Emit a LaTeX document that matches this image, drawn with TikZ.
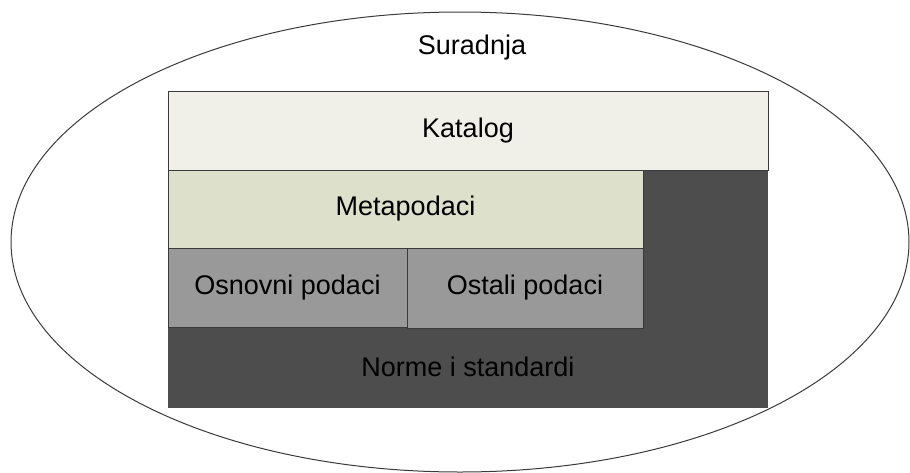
\documentclass[tikz,border=0pt]{standalone}
\usepackage{fontspec}
\setmainfont{Liberation Sans}
\usetikzlibrary{shapes.geometric}
\definecolor{katfill}{HTML}{F0F0E8}
\definecolor{metafill}{HTML}{DDE1CB}
\definecolor{grayfill}{HTML}{999999}
\definecolor{darkfill}{HTML}{4D4D4D}
\definecolor{edge}{HTML}{3A3A3A}
\tikzset{
  layer/.style={rectangle, draw=edge, line width=1pt, inner sep=0pt, outer sep=0pt, anchor=north west, font=\fontsize{27}{32}\selectfont, text=black},
}
\begin{document}
\begin{tikzpicture}[x=1pt,y=-1pt]
\useasboundingbox (0,0) rectangle (910,472);
\node[ellipse, draw=edge, line width=1pt, minimum width=898pt, minimum height=460pt, inner sep=0pt] (collab) at (460,242) {};
\node[font=\fontsize{27}{32}\selectfont] (surtxt) at (472,48) {Suradnja};
% dark base (norme i standardi)
\fill[darkfill] (643,170) rectangle (768,330);
\node[layer, draw=none, fill=darkfill, minimum width=600pt, minimum height=80pt] (norme) at (168,328) {};
\node[font=\fontsize{27}{32}\selectfont] (normetxt) at (468,367) {Norme i standardi};
\node[layer, fill=katfill, minimum width=600pt, minimum height=79pt] (katalog) at (168,91) {Katalog};
\node[layer, fill=metafill, minimum width=475pt, minimum height=78pt] (meta) at (168,170) {Metapodaci};
\node[layer, fill=grayfill, minimum width=239pt, minimum height=79pt] (osnovni) at (168,248) {Osnovni podaci};
\node[layer, fill=grayfill, minimum width=236pt, minimum height=80pt] (ostali) at (407,248) {Ostali podaci};
\end{tikzpicture}
\end{document}
